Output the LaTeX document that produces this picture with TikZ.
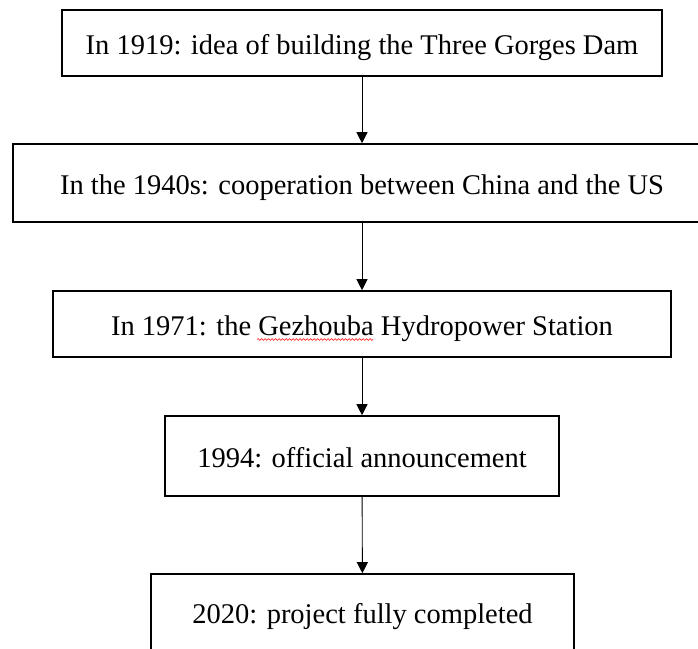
\documentclass[tikz,border=0pt]{standalone}
\usepackage{fontspec}
\setmainfont{Liberation Serif}
\usepackage{xcolor}
\usetikzlibrary{arrows.meta}
\usetikzlibrary{decorations.pathmorphing}
\tikzstyle{stage} = [draw, line width=1.6pt, inner sep=0pt, text height=23pt, text depth=0pt, font=\fontsize{28.5}{34}\selectfont]
\tikzstyle{arrow} = [line width=0.9pt, -{Triangle[length=11pt,width=11pt]}]
\tikzstyle{spellwave} = [red, line width=0.6pt, decorate, decoration={snake, amplitude=0.9pt, segment length=3.5pt}]

\begin{document}
\begin{tikzpicture}[x=1pt, y=-1pt]
    \useasboundingbox (0,0) rectangle (698,648);
    \clip (0,0) rectangle (698,648);

    \node[stage, minimum width=600pt, minimum height=66pt] (y1919) at (362, 43) {In 1919: idea of building the Three Gorges Dam};
    \node[stage, minimum width=698pt, minimum height=78pt] (y1940) at (362, 183) {In the 1940s: cooperation between China and the US};
    \node[stage, minimum width=618pt, minimum height=66pt] (y1971) at (362, 324) {In 1971: the Gezhouba Hydropower Station};
    \node[stage, minimum width=394pt, minimum height=80pt] (y1994) at (362, 456) {1994: official announcement};
    \node[stage, minimum width=423pt, minimum height=76pt] (y2020) at (362.5, 612) {2020: project fully completed};

    \draw[arrow] (y1919) to (y1940);
    \draw[arrow] (y1940) to (y1971);
    \draw[arrow] (y1971) to (y1994);
    \draw[arrow] (y1994) to (y2020);

    % spell check mark
    \coordinate (gezl) at (257, 339.5);
    \coordinate (gezr) at (373, 339.5);
    \draw[spellwave] (gezl) -- (gezr);

\end{tikzpicture}
\end{document}
